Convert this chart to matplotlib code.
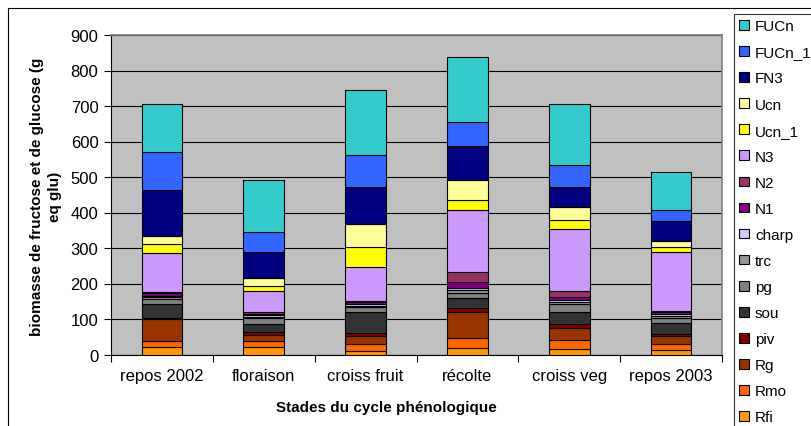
"""
Stacked biomass (fructose + glucose) per phenological stage
"""

import matplotlib
matplotlib.use('Agg')
import matplotlib.pyplot as plt
import numpy as np
from matplotlib.patches import Rectangle

plt.rcParams.update({
    'font.family': ['Liberation Sans', 'DejaVu Sans'],
    'font.size': 11,
    'axes.linewidth': 0.8,
})

stages = ['repos 2002', 'floraison', 'croiss fruit', 'récolte', 'croiss veg', 'repos 2003']

# stack order, bottom -> top
organs = ['Rfi', 'Rmo', 'Rg', 'piv', 'sou', 'pg', 'trc', 'charp',
          'N1', 'N2', 'N3', 'Ucn_1', 'Ucn', 'FN3', 'FUCn_1', 'FUCn']

colors = {
    'Rfi': '#FF9900', 'Rmo': '#FF6600', 'Rg': '#993300', 'piv': '#800000',
    'sou': '#333333', 'pg': '#808080', 'trc': '#969696', 'charp': '#CCCCFF',
    'N1': '#800080', 'N2': '#993366', 'N3': '#CC99FF', 'Ucn_1': '#FFFF00',
    'Ucn': '#FFFF99', 'FN3': '#000080', 'FUCn_1': '#3366FF', 'FUCn': '#33CCCC',
}

# values per stage (g eq glu)
Rfi = [20, 22, 10, 17, 16, 12]
Rmo = [19, 15, 20, 29, 26, 17]
Rg = [61, 19, 23, 75, 33, 24]
piv = [4, 7, 7, 10, 10, 6]
sou = [38, 22, 59, 28, 36, 30]
pg = [15, 19, 15, 15, 22, 14]
trc = [4, 3, 4, 9, 6, 5]
charp = [4, 3, 4, 4, 4, 5]
N1 = [7, 4, 5, 17, 9, 6]
N2 = [3, 5, 3, 27, 16, 4]
N3 = [110, 59, 97, 177, 176, 165]
Ucn_1 = [27, 16, 55, 27, 25, 14]
Ucn = [23, 22, 66, 56, 36, 17]
FN3 = [129, 74, 103, 97, 56, 56]
FUCn_1 = [107, 55, 92, 67, 62, 33]
FUCn = [134, 147, 182, 183, 172, 105]

values = {
    'Rfi': Rfi, 'Rmo': Rmo, 'Rg': Rg, 'piv': piv, 'sou': sou, 'pg': pg,
    'trc': trc, 'charp': charp, 'N1': N1, 'N2': N2, 'N3': N3,
    'Ucn_1': Ucn_1, 'Ucn': Ucn, 'FN3': FN3, 'FUCn_1': FUCn_1, 'FUCn': FUCn,
}


def plot_stacked(output_file='out.png'):
    fig = plt.figure(figsize=(8.12, 4.27), dpi=100)
    ax = fig.add_axes([111 / 812, 1 - 355.5 / 427, (722 - 111) / 812, (355.5 - 36) / 427])
    ax.set_facecolor('#C0C0C0')

    x = np.arange(len(stages))
    bottom = np.zeros(len(stages))
    handles = {}
    for org in organs:
        vals = np.array(values[org], dtype=float)
        h = ax.bar(x, vals, 0.4, bottom=bottom, color=colors[org],
                   edgecolor='black', linewidth=0.8, label=org, zorder=3)
        handles[org] = h
        bottom += vals

    ax.set_xlim(-0.5, len(stages) - 0.5)
    ax.set_ylim(0, 900)
    ax.set_yticks(np.arange(0, 901, 100))
    ax.yaxis.grid(True, color='black', linewidth=0.8, zorder=0)
    ax.set_axisbelow(True)

    ax.set_xticks(x)
    ax.set_xticklabels(stages, fontsize=12)
    ax.set_xticks(np.arange(-0.5, len(stages)), minor=True)
    ax.tick_params(axis='x', which='major', length=0, pad=10)
    ax.tick_params(axis='x', which='minor', length=5, width=0.8, direction='out')
    ax.tick_params(axis='y', length=5, width=0.8, direction='out', pad=4, labelsize=12)

    for side in ['top', 'right']:
        ax.spines[side].set_color('#808080')
        ax.spines[side].set_linewidth(1.2)

    fig.text(46 / 812, 1 - 197 / 427,
             'biomasse de fructose et de glucose (g\neq glu)',
             rotation=90, ha='center', va='center', multialignment='center',
             fontsize=11, fontweight='bold', linespacing=1.45)
    fig.text(386 / 812, 1 - 408 / 427, 'Stades du cycle phénologique',
             ha='center', va='center', fontsize=11, fontweight='bold')

    # legend, top entry first
    leg_order = organs[::-1]
    leg = fig.legend([handles[o] for o in leg_order], leg_order,
                     loc='upper left', bbox_to_anchor=(734 / 812, 1 - 15 / 427),
                     fontsize=11, frameon=True, fancybox=False,
                     handlelength=0.6, handleheight=0.6, handletextpad=0.42,
                     labelspacing=0.79, borderpad=0.35, borderaxespad=0)
    leg.get_frame().set_edgecolor('black')
    leg.get_frame().set_linewidth(0.8)

    # chart area border
    fig.patches.append(Rectangle((8 / 812, -0.1), 1.0, 1.1 - 9 / 427,
                                 transform=fig.transFigure, fill=False,
                                 edgecolor='black', linewidth=0.8))

    fig.savefig(output_file, dpi=100)
    plt.close(fig)


if __name__ == '__main__':
    plot_stacked('out.png')
